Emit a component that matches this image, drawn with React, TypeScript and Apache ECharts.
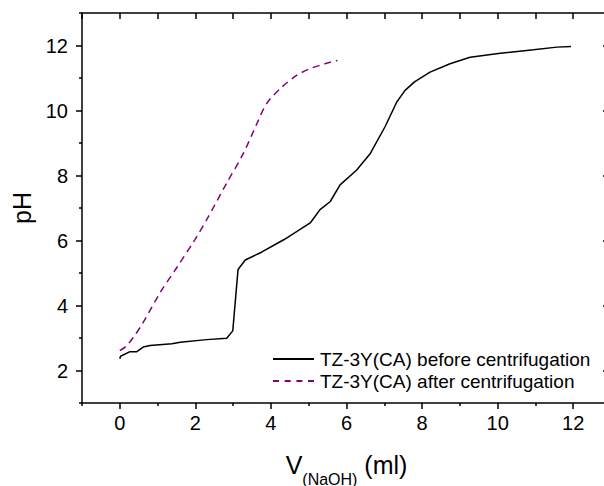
import React, { useEffect, useRef } from "react";
import * as echarts from "echarts";

const FONT = "'Liberation Sans', Arial, sans-serif";

const seriesNames = [
  "TZ-3Y(CA) before centrifugation",
  "TZ-3Y(CA) after centrifugation",
];

const beforeV = [0, 0.02, 0.27, 0.45, 0.62, 0.8, 1.38, 1.6, 2.3, 2.83, 2.99, 3.13, 3.32, 3.75, 4.35, 5.04, 5.3, 5.57, 5.83, 6.27, 6.63, 7.02, 7.33, 7.55, 7.8, 8.21, 8.74, 9.27, 10.07, 10.95, 11.57, 11.94];
const beforePH = [2.36, 2.44, 2.58, 2.58, 2.72, 2.77, 2.82, 2.87, 2.95, 2.99, 3.22, 5.11, 5.4, 5.64, 6.03, 6.54, 6.95, 7.2, 7.71, 8.17, 8.68, 9.5, 10.26, 10.62, 10.88, 11.18, 11.44, 11.64, 11.76, 11.87, 11.95, 11.97];

const afterV = [0, 0.17, 0.36, 0.62, 1.07, 1.51, 1.99, 2.3, 2.83, 3.27, 3.63, 3.89, 4.29, 4.68, 5.04, 5.43, 5.76];
const afterPH = [2.61, 2.75, 3.02, 3.48, 4.4, 5.17, 6.03, 6.64, 7.77, 8.68, 9.6, 10.22, 10.72, 11.08, 11.29, 11.44, 11.54];

const xMajor = [0, 2, 4, 6, 8, 10, 12];
const xMinor = [-1, 1, 3, 5, 7, 9, 11, 13];
const xAll = [-1, 0, 1, 2, 3, 4, 5, 6, 7, 8, 9, 10, 11, 12, 13];
const yMajor = [2, 4, 6, 8, 10, 12];
const yMinor = [1, 3, 5, 7, 9, 11, 13];

const zip = (a: number[], b: number[]) => a.map((v, i) => [v, b[i]]);

const SOLID_ICON = "path://M0,0h41v2h-41z";
const DASH_ICON = "path://M0,0h6v2h-6z M11.7,0h6v2h-6z M23.4,0h6v2h-6z M35,0h6v2h-6z";

export default function App() {
  const ref = useRef<HTMLDivElement>(null);
  useEffect(() => {
    if (!ref.current) return;
    const chart = echarts.init(ref.current, null, { renderer: "svg" });
    const axisLine = { show: true, onZero: false, lineStyle: { color: "#000", width: 1.5 } };
    const hiddenLine = { show: false, onZero: false };
    const baseX = { type: "value" as const, min: -1, max: 13, interval: 1, splitLine: { show: false } };
    const baseY = { type: "value" as const, min: 1, max: 13, interval: 1, splitLine: { show: false } };
    chart.setOption({
      animation: false,
      backgroundColor: "#fff",
      textStyle: { fontFamily: FONT },
      grid: { left: 82, top: 13, width: 529, height: 390, containLabel: false, outerBoundsMode: "none" },
      legend: {
        orient: "vertical",
        left: 268,
        top: 344,
        itemWidth: 41,
        itemHeight: 2,
        itemGap: 2,
        data: [
          { name: seriesNames[0], icon: SOLID_ICON },
          { name: seriesNames[1], icon: DASH_ICON },
        ],
        textStyle: { fontFamily: FONT, fontSize: 19, color: "#000", lineHeight: 20, padding: [0, 0, 0, 1] },
        selectedMode: false,
      },
      xAxis: [
        {
          ...baseX,
          position: "bottom",
          axisLine,
          axisTick: { show: true, inside: false, length: 6, lineStyle: { color: "#000", width: 1.5 }, customValues: xMajor },
          axisLabel: { show: true, customValues: xMajor, fontSize: 20, color: "#000", fontFamily: FONT, margin: 10 },
          name: "{a|V}{b|(NaOH)}{a| (ml)}",
          nameLocation: "middle",
          nameGap: 49,
          nameTextStyle: {
            rich: {
              a: { fontSize: 25, fontFamily: FONT, color: "#000", lineHeight: 28, verticalAlign: "top" },
              b: { fontSize: 16, fontFamily: FONT, color: "#000", lineHeight: 16, verticalAlign: "top", padding: [19, 0, 0, 0] },
            },
          },
        },
        {
          ...baseX,
          position: "bottom",
          axisLine: hiddenLine,
          axisTick: { show: true, inside: false, length: 3, lineStyle: { color: "#000", width: 1.5 }, customValues: xMinor },
          axisLabel: { show: false },
        },
        {
          ...baseX,
          position: "top",
          axisLine,
          axisTick: { show: true, inside: true, length: 6, lineStyle: { color: "#000", width: 1.5 }, customValues: xAll },
          axisLabel: { show: false },
        },
      ],
      yAxis: [
        {
          ...baseY,
          position: "left",
          axisLine,
          axisTick: { show: true, inside: false, length: 6, lineStyle: { color: "#000", width: 1.5 }, customValues: yMajor },
          axisLabel: { show: true, customValues: yMajor, fontSize: 20, color: "#000", fontFamily: FONT, margin: 14 },
          name: "pH",
          nameLocation: "middle",
          nameGap: 47,
          nameTextStyle: { fontSize: 25, fontFamily: FONT, color: "#000" },
        },
        {
          ...baseY,
          position: "left",
          axisLine: hiddenLine,
          axisTick: { show: true, inside: false, length: 3, lineStyle: { color: "#000", width: 1.5 }, customValues: yMinor },
          axisLabel: { show: false },
        },
        {
          ...baseY,
          position: "right",
          axisLine,
          axisTick: { show: true, inside: true, length: 8, lineStyle: { color: "#000", width: 1.5 }, customValues: yMajor },
          axisLabel: { show: false },
        },
      ],
      series: [
        {
          name: seriesNames[0],
          type: "line",
          xAxisIndex: 0,
          yAxisIndex: 0,
          data: zip(beforeV, beforePH),
          symbol: "none",
          showSymbol: false,
          lineStyle: { color: "#000", width: 1.5 },
          itemStyle: { color: "#000" },
        },
        {
          name: seriesNames[1],
          type: "line",
          xAxisIndex: 0,
          yAxisIndex: 0,
          data: zip(afterV, afterPH),
          symbol: "none",
          showSymbol: false,
          smooth: 0.3,
          lineStyle: { color: "#800080", width: 1.5, type: [7, 5] },
          itemStyle: { color: "#800080" },
        },
      ],
    });
    return () => chart.dispose();
  }, []);
  return (
    <div
      ref={ref}
      style={{ position: "fixed", left: 0, top: 0, width: 604, height: 486 }}
    />
  );
}
